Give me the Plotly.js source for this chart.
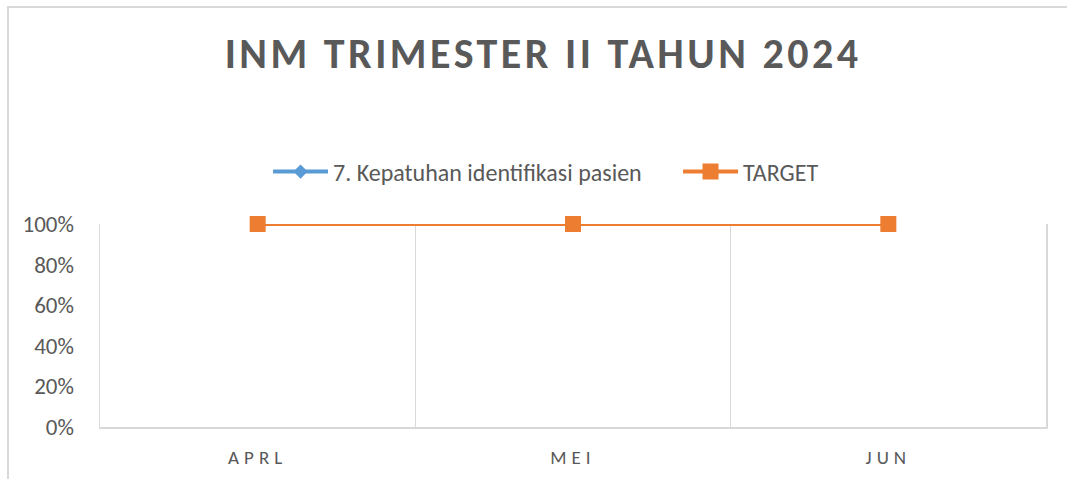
<!DOCTYPE html>
<html>
<head>
<meta charset="utf-8">
<script src="https://cdn.plot.ly/plotly-3.0.1.min.js"></script>
<style>
html,body{margin:0;padding:0;background:#fff;}
#wrap{position:relative;width:1067px;height:479px;}
#chart{width:1067px;height:479px;}
#frame{position:absolute;left:7px;top:6px;width:1060px;height:473px;border-left:2px solid #d9d9d9;border-top:2px solid #d9d9d9;pointer-events:none;box-sizing:border-box;}
</style>
</head>
<body>
<div id="wrap"><div id="chart"></div><div id="frame"></div></div>
<script>
const categories = ["APRL", "MEI", "JUN"];
const kepatuhan = [1.00, 1.00, 1.00];
const target = [1.00, 1.00, 1.00];
const seriesNames = ["7. Kepatuhan identifikasi pasien", "TARGET"];
const yTicks = [0, 0.2, 0.4, 0.6, 0.8, 1.0];

const txt = "#595959";
const font = "Carlito, 'Open Sans', 'Liberation Sans', sans-serif";

const traces = [
  {x: categories, y: kepatuhan, name: seriesNames[0], type: "scatter", mode: "lines+markers", cliponaxis: false,
   line: {color: "#5B9BD5", width: 4}, marker: {symbol: "diamond", size: 11, color: "#5B9BD5"}},
  {x: categories, y: target, name: seriesNames[1], type: "scatter", mode: "lines+markers", cliponaxis: false,
   line: {color: "#ED7D31", width: 4}, marker: {symbol: "square", size: 16, color: "#ED7D31"}}
];

const layout = {
  width: 1067, height: 479,
  margin: {l: 100, r: 21, t: 224, b: 52},
  paper_bgcolor: "#fff", plot_bgcolor: "#fff",
  font: {family: font, color: txt},
  title: {text: "<b>INM TRIMESTER II TAHUN 2024</b>", x: 0.509, xref: "container", xanchor: "center",
          y: 0.888, yref: "container", yanchor: "middle",
          font: {size: 42, color: txt, family: font}},
  showlegend: true,
  legend: {orientation: "h", x: 0.2512, xanchor: "left", xref: "container",
           y: 0.641, yanchor: "middle", yref: "container",
           font: {size: 24, color: txt}, traceorder: "normal", itemwidth: 55, entrywidth: 340},
  xaxis: {type: "category", range: [-0.5, 2.5], tickson: "boundaries", ticks: "",
          showgrid: true, gridcolor: "#d9d9d9", gridwidth: 1.5,
          showline: true, linecolor: "#d9d9d9", linewidth: 2,
          tickfont: {size: 19, color: txt}, ticklabelstandoff: 12, fixedrange: true},
  yaxis: {range: [0, 1], tickvals: yTicks, tickformat: ".0%", showgrid: false, zeroline: false,
          showline: true, mirror: true, linecolor: "#d9d9d9", linewidth: 1.5,
          ticks: "", tickfont: {size: 23, color: txt}, ticklabelstandoff: 20, fixedrange: true}
};

Plotly.newPlot("chart", traces, layout, {displayModeBar: false, staticPlot: true}).then(function(gd){
  gd.querySelectorAll(".xtick text").forEach(function(t){ t.style.letterSpacing = "5px"; });
  const tt = gd.querySelector(".gtitle");
  if (tt) tt.style.letterSpacing = "3.5px";
});
</script>
</body>
</html>
